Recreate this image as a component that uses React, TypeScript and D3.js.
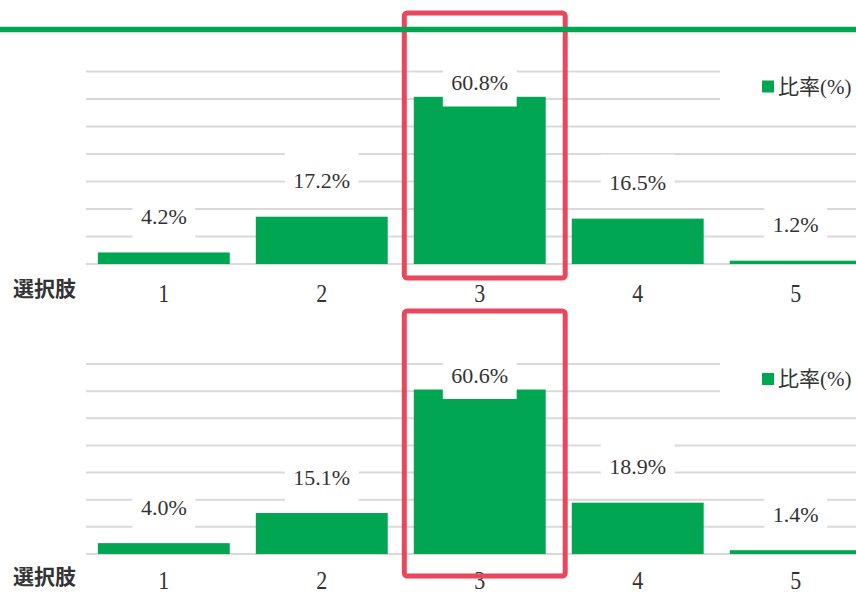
import * as d3 from "d3";
import React, { useEffect, useRef } from "react";

const categories = ["1", "2", "3", "4", "5"];
const ratesTop = [4.2, 17.2, 60.8, 16.5, 1.2];
const ratesBottom = [4.0, 15.1, 60.6, 18.9, 1.4];
const yTicks = [0, 10, 20, 30, 40, 50, 60, 70];
const highlighted = "3";
const legendLabel = "比率(%)";
const axisTitle = "選択肢";

const GREEN = "#00a651";
const RED = "#e8475c";
const GRID = "#d9d9d9";
const SERIF = "'Liberation Serif', 'Times New Roman', 'Noto Sans CJK JP', serif";

interface Panel {
  values: number[];
  top: number;
  base: number;
  frameTop: number;
  frameBottom: number;
  titleY: number;
  catY: number;
}

const panels: Panel[] = [
  { values: ratesTop, top: 71.5, base: 264, frameTop: 13, frameBottom: 278, titleY: 289, catY: 293 },
  { values: ratesBottom, top: 364, base: 554, frameTop: 311, frameBottom: 576, titleY: 577, catY: 580 },
];

const App: React.FC = () => {
  const svgRef = useRef<SVGSVGElement>(null);

  useEffect(() => {
    document.body.style.margin = "0";
    if (!svgRef.current) return;
    const svg = d3.select(svgRef.current);
    svg.selectAll("*").remove();

    const x = d3
      .scaleBand<string>()
      .domain(categories)
      .range([86, 873.5])
      .paddingInner(0.165)
      .paddingOuter(0.075);

    panels.forEach((p) => {
      const y = d3.scaleLinear().domain([0, 70]).range([p.base, p.top]);
      const g = svg.append("g");
      const data = categories.map((c, i) => ({ c, v: p.values[i] }));

      // gridlines
      g.selectAll(".grid")
        .data(yTicks)
        .join("line")
        .attr("x1", 86)
        .attr("x2", 880)
        .attr("y1", (d) => y(d))
        .attr("y2", (d) => y(d))
        .attr("stroke", GRID)
        .attr("stroke-width", 2);

      // bars
      g.selectAll(".bar")
        .data(data)
        .join("rect")
        .attr("x", (d) => x(d.c)!)
        .attr("y", (d) => y(d.v))
        .attr("width", x.bandwidth())
        .attr("height", (d) => p.base - y(d.v))
        .attr("fill", GREEN);

      // value labels on white boxes
      const labelY = (v: number) => Math.max(y(v) - 36, p.top + 11);
      const lab = g
        .selectAll(".lab")
        .data(data)
        .join("g")
        .attr("transform", (d) => `translate(${x(d.c)! + x.bandwidth() / 2},${labelY(d.v)})`);
      const box = lab.append("rect").attr("fill", "#fff");
      const txt = lab
        .append("text")
        .attr("text-anchor", "middle")
        .attr("dy", "0.35em")
        .attr("fill", "#333")
        .style("font-family", SERIF)
        .style("font-size", "22px")
        .text((d) => `${d.v.toFixed(1)}%`);
      txt.each(function (_, i) {
        const w = (this as SVGTextElement).getComputedTextLength() + 17;
        d3.select(box.nodes()[i])
          .attr("x", -w / 2)
          .attr("y", -28)
          .attr("width", w)
          .attr("height", 52);
      });

      // legend
      g.append("rect")
        .attr("x", 720)
        .attr("y", p.top - 10)
        .attr("width", 140)
        .attr("height", 50)
        .attr("fill", "#fff");
      g.append("rect")
        .attr("x", 762)
        .attr("y", p.top + 9)
        .attr("width", 12)
        .attr("height", 12)
        .attr("fill", GREEN);
      g.append("text")
        .attr("x", 778)
        .attr("y", p.top + 15)
        .attr("dy", "0.35em")
        .attr("fill", "#333")
        .style("font-family", SERIF)
        .style("font-size", "21px")
        .text(legendLabel);

      // category labels
      g.selectAll(".cat")
        .data(categories)
        .join("text")
        .attr("transform", (d) => `translate(${x(d)! + x.bandwidth() / 2},${p.catY}) scale(1,1.15)`)
        .attr("text-anchor", "middle")
        .attr("dy", "0.35em")
        .attr("fill", "#333")
        .style("font-family", SERIF)
        .style("font-size", "22px")
        .text((d) => d);

      g.append("text")
        .attr("x", 13)
        .attr("y", p.titleY)
        .attr("dy", "0.35em")
        .attr("fill", "#333")
        .style("font-family", "'Noto Sans CJK JP', sans-serif")
        .style("font-size", "21px")
        .style("font-weight", "700")
        .text(axisTitle);

      // highlight frame
      g.append("rect")
        .attr("x", x(highlighted)! - 9.5)
        .attr("y", p.frameTop)
        .attr("width", x.bandwidth() + 29)
        .attr("height", p.frameBottom - p.frameTop)
        .attr("rx", 3)
        .attr("fill", "none")
        .attr("stroke", RED)
        .attr("stroke-width", 5);
    });

    // top rule
    svg
      .append("line")
      .attr("x1", 0)
      .attr("x2", 856)
      .attr("y1", 29.5)
      .attr("y2", 29.5)
      .attr("stroke", GREEN)
      .attr("stroke-width", 5.5);
  }, []);

  return (
    <svg
      ref={svgRef}
      width={856}
      height={593}
      style={{ display: "block", position: "absolute", left: 0, top: 0, background: "#fff" }}
    />
  );
};

export default App;
